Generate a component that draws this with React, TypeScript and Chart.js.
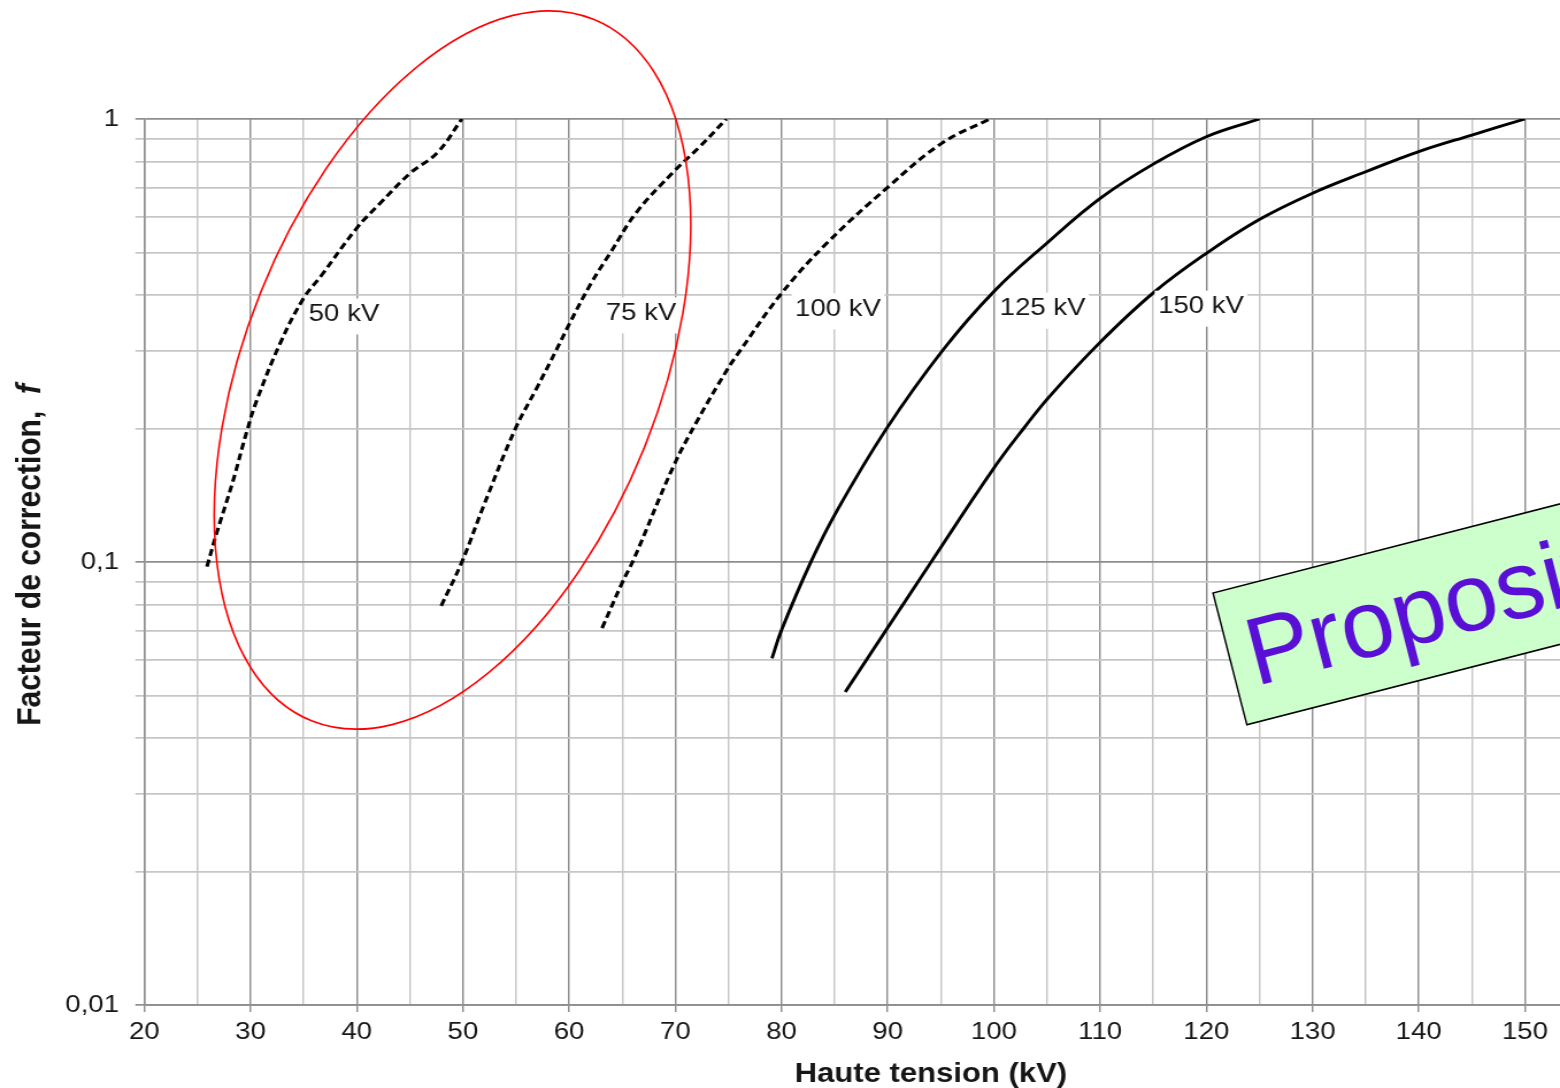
import { useEffect, useRef } from 'react';
import { Chart, registerables } from 'chart.js';

Chart.register(...registerables);

// ---------- data ----------
const kv50X = [25.9, 26.8, 28.3, 29.7, 30.6, 32.8, 35.0, 36.6, 40.0, 42.2, 45.05, 47.6, 49.9];
const kv50F = [0.0976, 0.116, 0.151, 0.199, 0.232, 0.312, 0.394, 0.441, 0.567, 0.645, 0.755, 0.84, 1.0];

const kv75X = [47.95, 49.9, 51.9, 54.9, 56.95, 58.8, 60.0, 62.0, 63.85, 66.4, 70.0, 72.3, 74.8];
const kv75F = [0.0796, 0.1, 0.133, 0.199, 0.247, 0.301, 0.344, 0.423, 0.4975, 0.618, 0.767, 0.866, 1.0];

const kv100X = [63.1, 64.97, 66.05, 69.8, 72.0, 74.85, 76.1, 80.0, 84.25, 90.05, 95.07, 99.6];
const kv100F = [0.0709, 0.0895, 0.101, 0.164, 0.207, 0.271, 0.3, 0.404, 0.524, 0.703, 0.881, 1.0];

const kv125X = [79.1, 80.0, 82.7, 85.2, 89.9, 95.2, 100.0, 105.0, 110.0, 115.0, 120.0, 125.0];
const kv125F = [0.0606, 0.0702, 0.0993, 0.1303, 0.2003, 0.301, 0.408, 0.525, 0.662, 0.791, 0.912, 1.0];

const kv150X = [86.0, 90.1, 94.0, 100.0, 102.8, 105.2, 109.9, 115.0, 120.0, 124.9, 130.0, 135.0, 140.0, 145.0, 150.0];
const kv150F = [0.0509, 0.0717, 0.0993, 0.163, 0.2003, 0.236, 0.3116, 0.405, 0.4975, 0.5916, 0.68, 0.76, 0.844, 0.92, 1.0];

const curveLabels = ['50 kV', '75 kV', '100 kV', '125 kV', '150 kV'];
const curveLabelX = [38.8, 66.77, 85.32, 104.58, 119.5];
const curveLabelF = [0.362, 0.364, 0.372, 0.373, 0.377];

const xTickValues = [20, 25, 30, 35, 40, 45, 50, 55, 60, 65, 70, 75, 80, 85, 90, 95, 100, 105, 110, 115, 120, 125, 130, 135, 140, 145, 150];
const yTickValues = [0.01, 0.02, 0.03, 0.04, 0.05, 0.06, 0.07, 0.08, 0.09, 0.1, 0.2, 0.3, 0.4, 0.5, 0.6, 0.7, 0.8, 0.9, 1];

const xTitle = 'Haute tension (kV)';
const yTitleMain = 'Facteur de correction,  ';
const yTitleSymbol = 'f';
const stampText = 'Proposition';

// ---------- layout / style ----------
const W = 1357;
const H = 1088;
const S = 1560 / W;
const MAJ = '#8e8e8e';
const MIN = '#c6c6c6';
const TXT = '#161616';
const FONT = '"Liberation Sans", Arial, sans-serif';

const isDecade = (v: number) => Math.abs(Math.log10(v) - Math.round(Math.log10(v))) < 1e-6;
const isTen = (v: number) => Math.abs(v % 10) < 1e-6;

const pts = (xs: number[], fs: number[]) => xs.map((x, i) => ({ x, y: fs[i] }));

const overlay = {
  id: 'overlay',
  afterDatasetsDraw(chart: any) {
    const ctx = chart.ctx as CanvasRenderingContext2D;
    const xs = chart.scales.x;
    const ys = chart.scales.y;
    ctx.save();
    ctx.font = `24px ${FONT}`;
    ctx.textAlign = 'center';
    ctx.textBaseline = 'middle';
    curveLabels.forEach((t, i) => {
      const px = xs.getPixelForValue(curveLabelX[i]);
      const py = ys.getPixelForValue(curveLabelF[i]);
      const w = ctx.measureText(t).width;
      ctx.fillStyle = '#ffffff';
      ctx.fillRect(px - w / 2 - 3, py - 16, w + 6, 36);
      ctx.fillStyle = TXT;
      ctx.fillText(t, px, py);
    });
    ctx.restore();
  },
  afterDraw(chart: any) {
    const ctx = chart.ctx as CanvasRenderingContext2D;
    // x title
    ctx.save();
    ctx.font = `bold 27px ${FONT}`;
    ctx.fillStyle = TXT;
    ctx.textAlign = 'center';
    ctx.textBaseline = 'alphabetic';
    ctx.fillText(xTitle, 931 / S, 1082);
    ctx.restore();
    // y title
    ctx.save();
    ctx.translate(40 / S, 555);
    ctx.rotate(-Math.PI / 2);
    const fb = `bold 30px ${FONT}`;
    const fi = `italic bold 30px ${FONT}`;
    ctx.font = fb;
    const w1 = ctx.measureText(yTitleMain).width;
    ctx.font = fi;
    const w2 = ctx.measureText(yTitleSymbol).width;
    const start = -(w1 + w2) / 2;
    ctx.fillStyle = TXT;
    ctx.textAlign = 'left';
    ctx.textBaseline = 'alphabetic';
    ctx.font = fb;
    ctx.fillText(yTitleMain, start, 0);
    ctx.font = fi;
    ctx.fillText(yTitleSymbol, start + w1, 0);
    ctx.restore();
    // annotations in screen space
    ctx.save();
    ctx.scale(1 / S, 1);
    ctx.beginPath();
    ctx.ellipse(452.5, 370, 378, 207, (-68.1 * Math.PI) / 180, 0, Math.PI * 2);
    ctx.strokeStyle = '#ff0000';
    ctx.lineWidth = 1.8;
    ctx.stroke();
    ctx.translate(1213, 593);
    ctx.rotate((-14.4 * Math.PI) / 180);
    ctx.fillStyle = '#ccffcc';
    ctx.fillRect(0, 0, 900, 136);
    ctx.strokeStyle = '#000000';
    ctx.lineWidth = 1.6;
    ctx.strokeRect(0, 0, 900, 136);
    ctx.fillStyle = '#5a0fd7';
    ctx.font = `96px ${FONT}`;
    ctx.textAlign = 'left';
    ctx.textBaseline = 'alphabetic';
    ctx.fillText(stampText, 18, 101);
    ctx.restore();
  },
};

function makeDataset(xs: number[], fs: number[], dashed: boolean) {
  return {
    data: pts(xs, fs),
    borderColor: '#000000',
    borderWidth: dashed ? 3.1 : 2.9,
    borderDash: dashed ? [7, 4] : [],
    borderCapStyle: 'butt' as const,
    pointRadius: 0,
    fill: false,
    tension: 0.4,
  };
}

export default function App() {
  const ref = useRef<HTMLCanvasElement>(null);
  useEffect(() => {
    if (!ref.current) return;
    const tickFont = { family: FONT, size: 24 };
    const chart = new Chart(ref.current, {
      type: 'line',
      data: {
        datasets: [
          makeDataset(kv50X, kv50F, true),
          makeDataset(kv75X, kv75F, true),
          makeDataset(kv100X, kv100F, true),
          makeDataset(kv125X, kv125F, false),
          makeDataset(kv150X, kv150F, false),
        ] as any,
      },
      options: {
        animation: false,
        responsive: false,
        devicePixelRatio: 1,
        events: [],
        layout: { padding: { top: 119, left: 0, right: 0, bottom: 0 } },
        plugins: {
          legend: { display: false },
          tooltip: { enabled: false },
          title: { display: false },
        },
        scales: {
          x: {
            type: 'linear',
            min: 20,
            max: 153.3,
            afterBuildTicks: (s: any) => {
              s.ticks = xTickValues.map((v) => ({ value: v }));
            },
            afterFit: (s: any) => {
              s.height = 83;
            },
            ticks: {
              autoSkip: false,
              maxRotation: 0,
              padding: 6,
              font: tickFont,
              color: TXT,
              callback: (v: any) => (isTen(Number(v)) ? String(v) : ''),
            },
            grid: {
              color: (c: any) => (c.tick && isTen(c.tick.value) ? MAJ : MIN),
              lineWidth: 1.45,
              tickLength: 7,
              tickWidth: 1.45,
              tickColor: (c: any) => (c.tick && isTen(c.tick.value) ? MAJ : 'rgba(0,0,0,0)'),
            },
            border: { color: MAJ, width: 1.7 },
          },
          y: {
            type: 'logarithmic',
            min: 0.01,
            max: 1,
            afterBuildTicks: (s: any) => {
              s.ticks = yTickValues.map((v) => ({ value: v }));
            },
            afterFit: (s: any) => {
              s.width = 144.3 / S;
            },
            ticks: {
              autoSkip: false,
              padding: 14.2,
              font: tickFont,
              color: TXT,
              callback: (v: any) => {
                const n = Number(v);
                if (!isDecade(n)) return '';
                if (Math.abs(n - 1) < 1e-9) return '1';
                if (Math.abs(n - 0.1) < 1e-9) return '0,1';
                if (Math.abs(n - 0.01) < 1e-9) return '0,01';
                return String(n).replace('.', ',');
              },
            },
            grid: {
              color: (c: any) => (c.tick && isDecade(c.tick.value) ? MAJ : MIN),
              lineWidth: 1.7,
              tickLength: 9 / S,
              tickWidth: 1.7,
            },
            border: { color: MAJ, width: 1.45 },
          },
        },
      } as any,
      plugins: [overlay],
    });
    return () => chart.destroy();
  }, []);

  return (
    <div
      style={{
        position: 'fixed',
        left: 0,
        top: 0,
        width: 1560,
        height: 1088,
        overflow: 'hidden',
        background: '#ffffff',
      }}
    >
      <canvas
        ref={ref}
        width={W}
        height={H}
        style={{ width: '1560px', height: '1088px', display: 'block' }}
      />
    </div>
  );
}
